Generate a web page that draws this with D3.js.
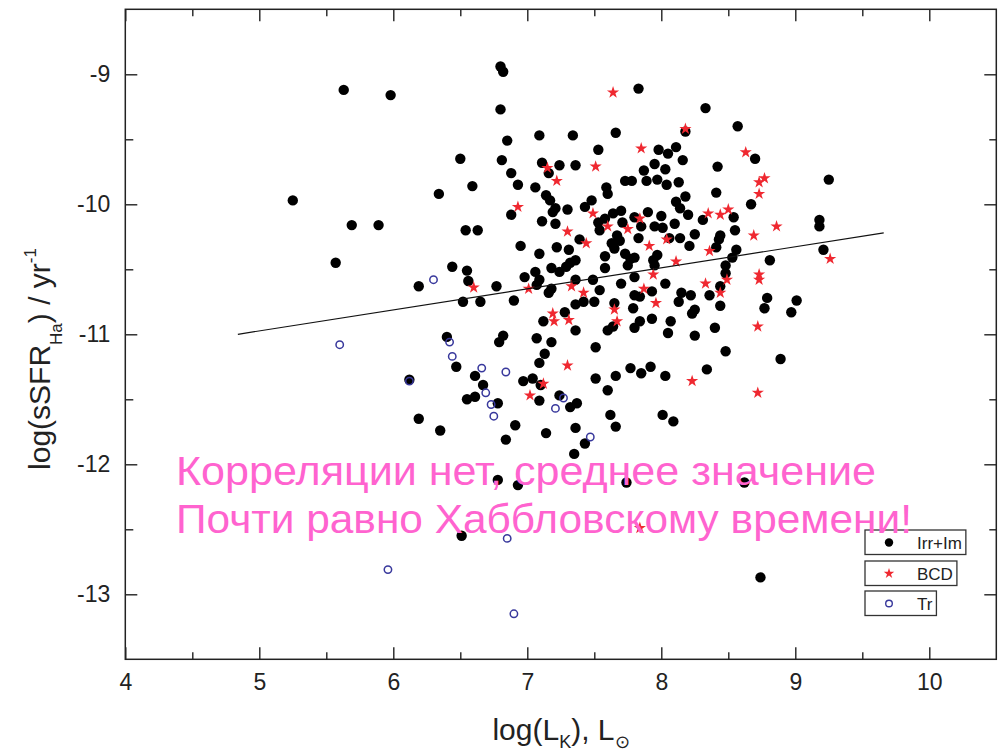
<!DOCTYPE html>
<html>
<head>
<meta charset="utf-8">
<script src="https://cdn.jsdelivr.net/npm/d3@7"></script>
<style>
  body { margin: 0; background: #fff; }
  svg { display: block; font-family: "Liberation Sans", Arial, sans-serif; }
</style>
</head>
<body>
<svg id="chart" width="1000" height="753"></svg>
<script>
// Irr + Im galaxies: [log(L_K), log(sSFR)]
const irrIm = [
  [5.25,-9.97],[5.63,-9.12],[5.98,-9.16],[6.80,-8.94],[6.82,-8.98],[6.80,-9.27],[7.83,-9.11],[8.33,-9.26],[6.50,-9.65],[6.34,-9.92],
  [5.69,-10.16],[5.89,-10.16],[6.54,-10.20],[5.57,-10.45],[6.44,-10.48],[6.55,-10.51],[6.56,-10.59],[6.19,-10.63],[6.52,-10.75],[6.40,-11.02],
  [6.47,-11.25],[6.12,-11.35],[6.19,-11.65],[6.35,-11.74],[6.55,-11.50],[6.61,-11.48],[6.61,-11.32],[6.51,-12.55],[6.78,-12.12],[6.93,-12.16],
  [7.74,-12.14],[8.62,-12.14],[8.74,-12.87],[6.91,-11.70],[6.84,-11.81],[7.14,-11.76],[7.36,-11.72],[7.43,-11.84],[7.35,-11.92],[7.66,-11.71],
  [8.01,-11.62],[8.09,-11.67],[9.25,-9.81],[9.18,-10.12],[9.18,-10.17],[9.21,-10.35],[8.81,-10.43],[9.01,-10.74],[8.97,-10.83],[8.89,-11.19],
  [8.77,-10.80],[8.79,-10.72],
  [7.09,-9.47],[7.34,-9.47],[7.66,-9.45],[6.85,-9.51],[7.53,-9.58],[6.81,-9.66],[7.11,-9.68],[7.24,-9.70],[7.36,-9.70],[6.88,-9.76],
  [7.16,-9.76],[6.93,-9.85],[6.59,-9.86],[7.06,-9.87],[7.59,-9.87],[7.60,-9.92],[7.14,-9.93],[7.17,-9.97],[7.48,-9.97],[7.43,-10.02],
  [7.21,-10.03],[7.19,-10.06],[7.30,-10.04],[6.88,-10.08],[7.64,-10.07],[7.70,-10.05],[7.58,-10.11],[7.53,-10.14],[7.54,-10.20],[7.71,-10.14],
  [7.67,-10.24],[7.69,-10.28],[7.63,-10.30],[7.65,-10.34],[7.73,-10.38],[7.77,-10.42],[7.75,-10.47],[7.80,-10.41],[6.63,-10.20],[7.11,-10.13],
  [7.21,-10.15],[7.39,-10.27],[6.95,-10.32],[7.22,-10.33],[7.31,-10.35],[7.09,-10.38],[7.36,-10.43],[7.32,-10.45],[7.58,-10.40],[7.18,-10.49],
  [7.29,-10.48],[7.58,-10.49],
  [8.57,-9.40],[8.18,-9.44],[7.98,-9.58],[8.05,-9.61],[8.11,-9.56],[8.16,-9.66],[7.95,-9.69],[8.03,-9.73],[7.87,-9.74],[8.42,-9.71],
  [8.70,-9.65],[7.73,-9.82],[7.78,-9.82],[7.89,-9.82],[7.97,-9.81],[8.04,-9.85],[8.13,-9.83],[8.41,-9.91],[8.18,-9.94],[8.11,-9.98],
  [8.14,-10.03],[8.67,-10.00],[7.90,-10.06],[8.00,-10.09],[8.20,-10.08],[8.31,-10.12],[8.54,-10.10],[7.80,-10.10],[7.85,-10.17],[7.83,-10.26],
  [7.95,-10.17],[8.01,-10.18],[8.10,-10.15],[8.55,-10.20],[8.44,-10.24],[8.43,-10.27],[8.41,-10.33],[8.25,-10.23],[8.14,-10.26],[8.06,-10.26],
  [8.21,-10.32],[8.56,-10.35],[8.53,-10.41],[7.97,-10.39],[7.94,-10.43],[7.95,-10.47],[8.48,-10.47],
  [6.98,-10.56],[7.06,-10.52],[7.09,-10.58],[7.07,-10.62],[7.24,-10.52],[7.36,-10.58],[7.49,-10.58],[6.77,-10.63],[7.18,-10.65],[7.16,-10.68],
  [7.54,-10.66],[7.70,-10.61],[7.80,-10.56],[6.65,-10.75],[6.90,-10.74],[7.42,-10.75],[7.36,-10.77],[7.50,-10.75],[7.65,-10.76],[7.28,-10.83],
  [7.12,-10.90],[7.36,-10.97],[7.60,-10.97],[7.64,-10.94],[6.82,-11.01],[6.79,-11.06],[7.07,-11.03],[7.18,-11.06],[7.51,-11.10],[7.13,-11.15],
  [7.09,-11.22],[7.51,-11.34],[7.66,-11.32],[7.60,-11.43],[6.97,-11.36],[7.04,-11.34],[7.10,-11.39],[6.67,-11.39],[6.78,-11.53],[7.09,-11.51],
  [7.37,-11.53],[7.32,-11.56],[7.62,-11.62],
  [7.80,-10.70],[7.84,-10.71],[7.93,-10.67],[8.03,-10.61],[8.15,-10.68],[8.22,-10.70],[8.13,-10.75],[8.36,-10.70],[8.44,-10.63],[8.48,-10.53],
  [8.44,-10.78],[7.79,-10.80],[8.23,-10.84],[8.25,-10.81],[7.84,-10.90],[7.80,-10.95],[7.93,-10.88],[8.07,-10.90],[8.05,-10.99],[8.25,-11.01],
  [8.40,-10.95],[8.48,-11.13],[7.77,-11.26],[7.92,-11.25],[7.85,-11.30],[8.03,-11.32],[8.34,-11.27],[7.24,-11.47]
];

// BCD galaxies
const bcd = [
  [7.64,-9.14],[8.18,-9.42],[7.85,-9.57],[8.63,-9.60],[7.51,-9.71],[7.15,-9.72],[7.22,-9.82],[8.73,-9.83],[8.77,-9.80],[8.73,-9.92],
  [6.93,-10.02],[7.49,-10.07],[8.35,-10.07],[8.44,-10.08],[8.50,-10.04],[7.84,-10.11],[7.60,-10.17],[7.75,-10.19],[7.30,-10.21],[8.86,-10.17],
  [8.69,-10.24],[7.44,-10.30],[8.04,-10.27],[7.91,-10.32],[8.36,-10.36],[8.11,-10.44],[9.26,-10.42],[7.94,-10.54],[8.73,-10.54],[8.73,-10.58],
  [6.60,-10.64],[7.01,-10.65],[7.33,-10.63],[7.42,-10.68],[7.87,-10.65],[8.33,-10.61],[8.49,-10.58],[8.44,-10.68],[7.96,-10.76],[7.65,-10.81],
  [7.67,-10.90],[7.19,-10.84],[7.20,-10.90],[7.31,-10.89],[8.72,-10.94],[7.30,-11.24],[8.23,-11.36],[7.12,-11.38],[7.02,-11.47],[8.72,-11.45],
  [7.84,-12.49]
];

// Transition-type galaxies
const tr = [
  [6.30,-10.58],[5.60,-11.08],[6.42,-11.06],[6.44,-11.17],[6.12,-11.36],[6.66,-11.26],[6.84,-11.29],[6.69,-11.45],[6.73,-11.54],[6.75,-11.63],
  [7.27,-11.49],[7.21,-11.57],[7.47,-11.79],[6.85,-12.57],[5.96,-12.81],[6.90,-13.15]
];

// Linear fit endpoints
const fitLine = [[4.84,-11.0],[9.66,-10.22]];

const xMajor = [4,5,6,7,8,9,10];
const xMinor = [4.5,5.5,6.5,7.5,8.5,9.5];
const yMajor = [-13,-12,-11,-10,-9];
const yMinor = [-12.5,-11.5,-10.5,-9.5];

const legendLabels = ["Irr+Im","BCD","Tr"];
const noteLines = ["Корреляции нет, среднее значение","Почти равно Хаббловскому времени!"];

const svg = d3.select("#chart");
const L = 125.3, R = 996.3, T = 9.3, B = 659.3;
const x = d3.scaleLinear().domain([4, 10.5]).range([L, R]);
const y = d3.scaleLinear().domain([-13.5, -8.5]).range([B, T]);

const ink = "#222";
const fmt = d => String(d);

function styleAxis(g) {
  g.select(".domain").remove();
  g.selectAll(".tick line").attr("stroke", ink).attr("stroke-width", 1.4);
  g.selectAll(".tick text").attr("fill", ink).attr("font-size", 23)
    .attr("font-family", "'Liberation Sans', Arial, sans-serif");
}

// bottom
svg.append("g").attr("transform", `translate(0,${B})`)
  .call(d3.axisBottom(x).tickValues(xMajor).tickSize(-12).tickPadding(14).tickFormat(fmt)).call(styleAxis);
svg.append("g").attr("transform", `translate(0,${B})`)
  .call(d3.axisBottom(x).tickValues(xMinor).tickSize(-7).tickFormat("")).call(styleAxis);
// top
svg.append("g").attr("transform", `translate(0,${T})`)
  .call(d3.axisTop(x).tickValues(xMajor).tickSize(-12).tickFormat("")).call(styleAxis);
svg.append("g").attr("transform", `translate(0,${T})`)
  .call(d3.axisTop(x).tickValues(xMinor).tickSize(-7).tickFormat("")).call(styleAxis);
// left
svg.append("g").attr("transform", `translate(${L},0)`)
  .call(d3.axisLeft(y).tickValues(yMajor).tickSize(-12).tickPadding(15).tickFormat(fmt)).call(styleAxis);
svg.append("g").attr("transform", `translate(${L},0)`)
  .call(d3.axisLeft(y).tickValues(yMinor).tickSize(-8).tickFormat("")).call(styleAxis);
// right
svg.append("g").attr("transform", `translate(${R},0)`)
  .call(d3.axisRight(y).tickValues(yMajor).tickSize(-12).tickFormat("")).call(styleAxis);
svg.append("g").attr("transform", `translate(${R},0)`)
  .call(d3.axisRight(y).tickValues(yMinor).tickSize(-7).tickFormat("")).call(styleAxis);

// frame
svg.append("rect").attr("x", L).attr("y", T).attr("width", R - L).attr("height", B - T)
  .attr("fill", "none").attr("stroke", ink).attr("stroke-width", 1.5);

// markers
const starPath = d3.symbol().type(d3.symbolStar).size(46)();
const starColor = "#ef2830";
const trColor = "#38389c";

svg.append("g").selectAll("circle").data(irrIm).join("circle")
  .attr("cx", d => x(d[0])).attr("cy", d => y(d[1])).attr("r", 5.2).attr("fill", "#000");

svg.append("g").selectAll("path").data(bcd).join("path")
  .attr("d", starPath).attr("transform", d => `translate(${x(d[0])},${y(d[1])})`).attr("fill", starColor);

svg.append("g").selectAll("circle").data(tr).join("circle")
  .attr("cx", d => x(d[0])).attr("cy", d => y(d[1])).attr("r", 3.7)
  .attr("fill", "none").attr("stroke", trColor).attr("stroke-width", 1.5);

// fit line
svg.append("path").datum(fitLine)
  .attr("d", d3.line().x(d => x(d[0])).y(d => y(d[1])))
  .attr("stroke", "#111").attr("stroke-width", 1.2).attr("fill", "none");

// axis titles
const yTitle = svg.append("text").attr("transform", "translate(50,359) rotate(-90)")
  .attr("text-anchor", "middle").attr("font-size", 30).attr("fill", ink);
yTitle.append("tspan").text("log(sSFR");
yTitle.append("tspan").attr("font-size", 17).attr("dy", 12).text("Ha");
yTitle.append("tspan").attr("dy", -12).text(") / yr");
yTitle.append("tspan").attr("font-size", 17).attr("dy", -14).text("-1");

const xTitle = svg.append("text").attr("x", 561).attr("y", 740)
  .attr("text-anchor", "middle").attr("font-size", 30).attr("fill", ink);
xTitle.append("tspan").text("log(L");
xTitle.append("tspan").attr("font-size", 18).attr("dy", 8).text("K");
xTitle.append("tspan").attr("dy", -8).text("), L");
xTitle.append("tspan").attr("font-size", 18).attr("dy", 8).text("⊙");

// legend
const legendTop = [530, 561, 591];
const lg = svg.append("g");
legendLabels.forEach((lab, i) => {
  const g = lg.append("g");
  const t = g.append("text").attr("x", 917).attr("y", legendTop[i] + 19)
    .attr("font-size", 17).attr("fill", ink).text(lab);
  const w = t.node().getComputedTextLength();
  g.insert("rect", "text").attr("x", 865).attr("y", legendTop[i]).attr("width", 917 + w + 4 - 865).attr("height", 24.5)
    .attr("fill", "#fff").attr("stroke", "#333").attr("stroke-width", 1.3);
  const cy = legendTop[i] + 12.5;
  if (i === 0) g.append("circle").attr("cx", 889).attr("cy", cy).attr("r", 4.2).attr("fill", "#000");
  if (i === 1) g.append("path").attr("d", d3.symbol().type(d3.symbolStar).size(34)()).attr("transform", `translate(889,${cy})`).attr("fill", starColor);
  if (i === 2) g.append("circle").attr("cx", 889).attr("cy", cy).attr("r", 3.3).attr("fill", "none").attr("stroke", trColor).attr("stroke-width", 1.4);
});

// annotation on top of everything (slightly wide lettering)
const noteWidths = [700, 736];
svg.append("g").selectAll("text").data(noteLines).join("text")
  .attr("x", 176).attr("y", (d, i) => 485 + i * 48)
  .attr("font-size", 40).attr("fill", "#ff63cf")
  .attr("textLength", (d, i) => noteWidths[i]).attr("lengthAdjust", "spacingAndGlyphs")
  .text(d => d);
</script>
</body>
</html>
